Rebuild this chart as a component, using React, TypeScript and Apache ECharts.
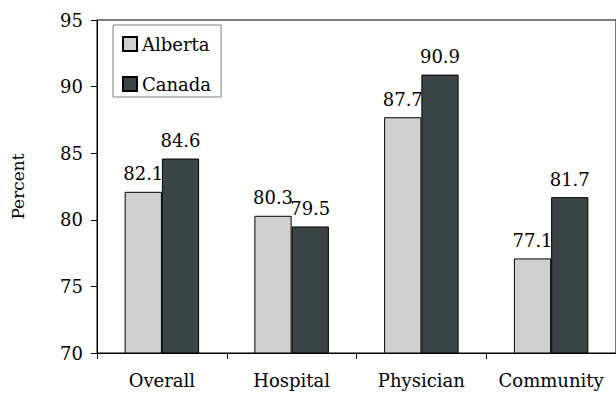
import React, { useEffect, useRef } from "react";
import * as echarts from "echarts";

const categories = ["Overall", "Hospital", "Physician", "Community"];
const albertaValues = [82.1, 80.3, 87.7, 77.1];
const canadaValues = [84.6, 79.5, 90.9, 81.7];
const seriesNames = ["Alberta", "Canada"];
const yAxisName = "Percent";

const FONT = "'DejaVu Serif', serif";
const FONT_SIZE = 18;

export default function App() {
  const ref = useRef<HTMLDivElement>(null);

  useEffect(() => {
    if (!ref.current) return;
    const chart = echarts.init(ref.current, null, { renderer: "svg" });

    const label = {
      show: true,
      position: "top" as const,
      distance: 9,
      color: "#000",
      fontFamily: FONT,
      fontSize: FONT_SIZE,
      formatter: (p: any) => p.value.toFixed(1),
    };

    chart.setOption({
      animation: false,
      backgroundColor: "#fff",
      textStyle: { fontFamily: FONT },
      grid: {
        left: 97,
        top: 20,
        bottom: 40,
        right: -2,
        show: true,
        borderColor: "#000",
        borderWidth: 1,
        backgroundColor: "transparent",
      },
      legend: {
        orient: "vertical",
        left: 113,
        top: 25,
        padding: [10, 10, 4, 9],
        icon: "rect",
        itemWidth: 14,
        itemHeight: 14,
        itemGap: 22,
        borderColor: "#808080",
        borderWidth: 1,
        backgroundColor: "#fff",
        textStyle: { fontFamily: FONT, fontSize: FONT_SIZE, color: "#000" },
        data: seriesNames,
      },
      xAxis: {
        type: "category",
        data: categories,
        axisLine: { lineStyle: { color: "#000", width: 1 } },
        axisTick: { show: true, interval: 0, length: 6, lineStyle: { color: "#000" } },
        axisLabel: { interval: 0, color: "#000", fontFamily: FONT, fontSize: FONT_SIZE, margin: 18 },
      },
      yAxis: {
        type: "value",
        min: 70,
        max: 95,
        interval: 5,
        name: yAxisName,
        nameLocation: "middle",
        nameGap: 71,
        nameTextStyle: { color: "#000", fontFamily: FONT, fontSize: FONT_SIZE - 1 },
        splitLine: { show: false },
        axisLine: { show: true, lineStyle: { color: "#000", width: 1 } },
        axisTick: { show: true, length: 6, lineStyle: { color: "#000" } },
        axisLabel: { color: "#000", fontFamily: FONT, fontSize: FONT_SIZE, margin: 14 },
      },
      series: [
        {
          name: seriesNames[0],
          type: "bar",
          data: albertaValues,
          barWidth: "28.7%",
          barGap: "0%",
          itemStyle: { color: "#d0d0d0", borderColor: "#000", borderWidth: 1 },
          label,
        },
        {
          name: seriesNames[1],
          type: "bar",
          data: canadaValues,
          barWidth: "28.7%",
          barGap: "0%",
          itemStyle: { color: "#3c4545", borderColor: "#000", borderWidth: 1 },
          label,
        },
      ],
    });

    return () => chart.dispose();
  }, []);

  return (
    <div
      ref={ref}
      style={{ position: "fixed", left: 0, top: 0, width: 616, height: 393 }}
    />
  );
}
